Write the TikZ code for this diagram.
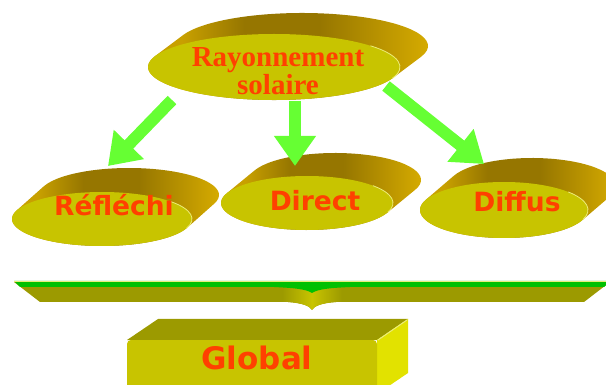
\documentclass[tikz,border=0pt]{standalone}
\usepackage{fontspec}
\setmainfont{Liberation Serif}
\newfontfamily\dejasans{DejaVu Sans}
\usetikzlibrary{arrows.meta}
\definecolor{frontyel}{RGB}{200,196,0}
\definecolor{goldA}{RGB}{200,160,0}
\definecolor{goldB}{RGB}{150,118,0}
\definecolor{goldC}{RGB}{222,178,0}
\definecolor{txtred}{RGB}{255,64,0}
\definecolor{arrgreen}{RGB}{102,255,51}
\definecolor{bracegreen}{RGB}{0,192,0}
\definecolor{olive}{RGB}{156,154,0}
\definecolor{sideyel}{RGB}{226,226,0}
\definecolor{rimyel}{RGB}{236,236,120}
\pgfdeclarehorizontalshading{goldshade}{100bp}{color(0bp)=(goldA); color(25bp)=(goldA); color(33bp)=(goldA); color(43bp)=(goldB); color(55bp)=(goldB); color(75bp)=(goldC); color(100bp)=(goldC)}
\tikzset{
  diskback/.style={shading=goldshade},
  diskfront/.style={fill=frontyel},
  serlabel/.style={text=txtred, font=\fontsize{29}{28}\selectfont\bfseries, align=center, inner sep=0pt},
  sanlabel/.style={text=txtred, font=\dejasans\fontsize{26.5}{28}\selectfont\bfseries, inner sep=0pt},
  bigarrow/.style={draw=arrgreen, line width=12pt, -{Triangle[length=30pt,width=40pt]}},
}
\newcommand\mydisk[6]{% cx, cy, rx, ry, dx, dy
  \pgfmathsetmacro\tA{atan2(-(#4)*(#5),(#3)*(#6))}
  \pgfmathsetmacro\tB{\tA+180}
  \pgfmathsetmacro\tC{\tA+360}
  \shade[diskback] ({#1+#3*cos(\tA)},{#2+#4*sin(\tA)}) -- ++(#5,#6)
     arc[start angle=\tA, end angle=\tB, x radius=#3, y radius=#4]
     -- ({#1+#3*cos(\tB)},{#2+#4*sin(\tB)})
     arc[start angle=\tB, end angle=\tC, x radius=#3, y radius=#4] -- cycle;
  \fill[diskfront] (#1,#2) ellipse [x radius=#3, y radius=#4];
  \draw[rimyel, line width=0.8pt] ({#1+#3*cos(-40)},{#2+#4*sin(-40)})
     arc[start angle=-40, end angle=20, x radius=#3, y radius=#4];
}
\begin{document}
\begin{tikzpicture}[x=1pt,y=-1pt]
\useasboundingbox (0,0) rectangle (606,385);
% disks
\mydisk{274}{67}{126}{33}{28}{-21}
\mydisk{102}{219}{90}{27}{27}{-24}
\mydisk{307}{203}{86}{27}{28}{-23}
\mydisk{504}{210}{84}{28}{28}{-24}
% labels
\node[serlabel] (ray) at (278,71) {Rayonnement\\solaire};
\node[sanlabel] (ref) at (114,205) {Réfléchi};
\node[sanlabel] (dir) at (315,201) {Direct};
\node[sanlabel] (dif) at (517,202) {Diffus};
% arrows
\coordinate (a1s) at (172,100);
\coordinate (a1e) at (108,166);
\coordinate (a2s) at (295,101);
\coordinate (a2e) at (295,166);
\coordinate (a3s) at (386,86);
\coordinate (a3e) at (484,164);
\draw[bigarrow] (a1s) -- (a1e);
\draw[bigarrow] (a2s) -- (a2e);
\draw[bigarrow] (a3s) -- (a3e);
% brace
\fill[olive] (14,282) -- (610,282) -- (584,302) -- (336,302)
   .. controls (322,303) and (314,306) .. (312,310)
   .. controls (310,306) and (302,303) .. (288,302) -- (40,302) -- cycle;
\shade[left color=olive, right color=frontyel] (282,285) -- (312,291) -- (312,310)
   .. controls (310,306) and (302,303) .. (288,302) -- (282,302) -- cycle;
\shade[left color=frontyel, right color=olive] (312,291) -- (342,285) -- (342,302) -- (336,302)
   .. controls (322,303) and (314,306) .. (312,310) -- cycle;
\fill[bracegreen] (14,281) -- (610,281) -- (604,287) -- (350,287)
   .. controls (330,288) and (318,289) .. (312,293)
   .. controls (306,289) and (294,288) .. (274,287) -- (20,287) -- cycle;
\draw[rimyel, line width=0.6pt] (14,281) -- (610,281);
% global box
\fill[olive] (127,340) -- (158,319) -- (408,319) -- (377,340) -- cycle;
\fill[sideyel] (377,340) -- (408,319) -- (408,373) -- (377,394) -- cycle;
\draw[rimyel, line width=1pt] (378,340) -- (407,320);
\fill[frontyel, rounded corners=4pt] (127,340) rectangle (377,400);
\node[sanlabel, font=\dejasans\fontsize{31}{33}\selectfont\bfseries] (glo) at (257,358) {Global};
\end{tikzpicture}
\end{document}
